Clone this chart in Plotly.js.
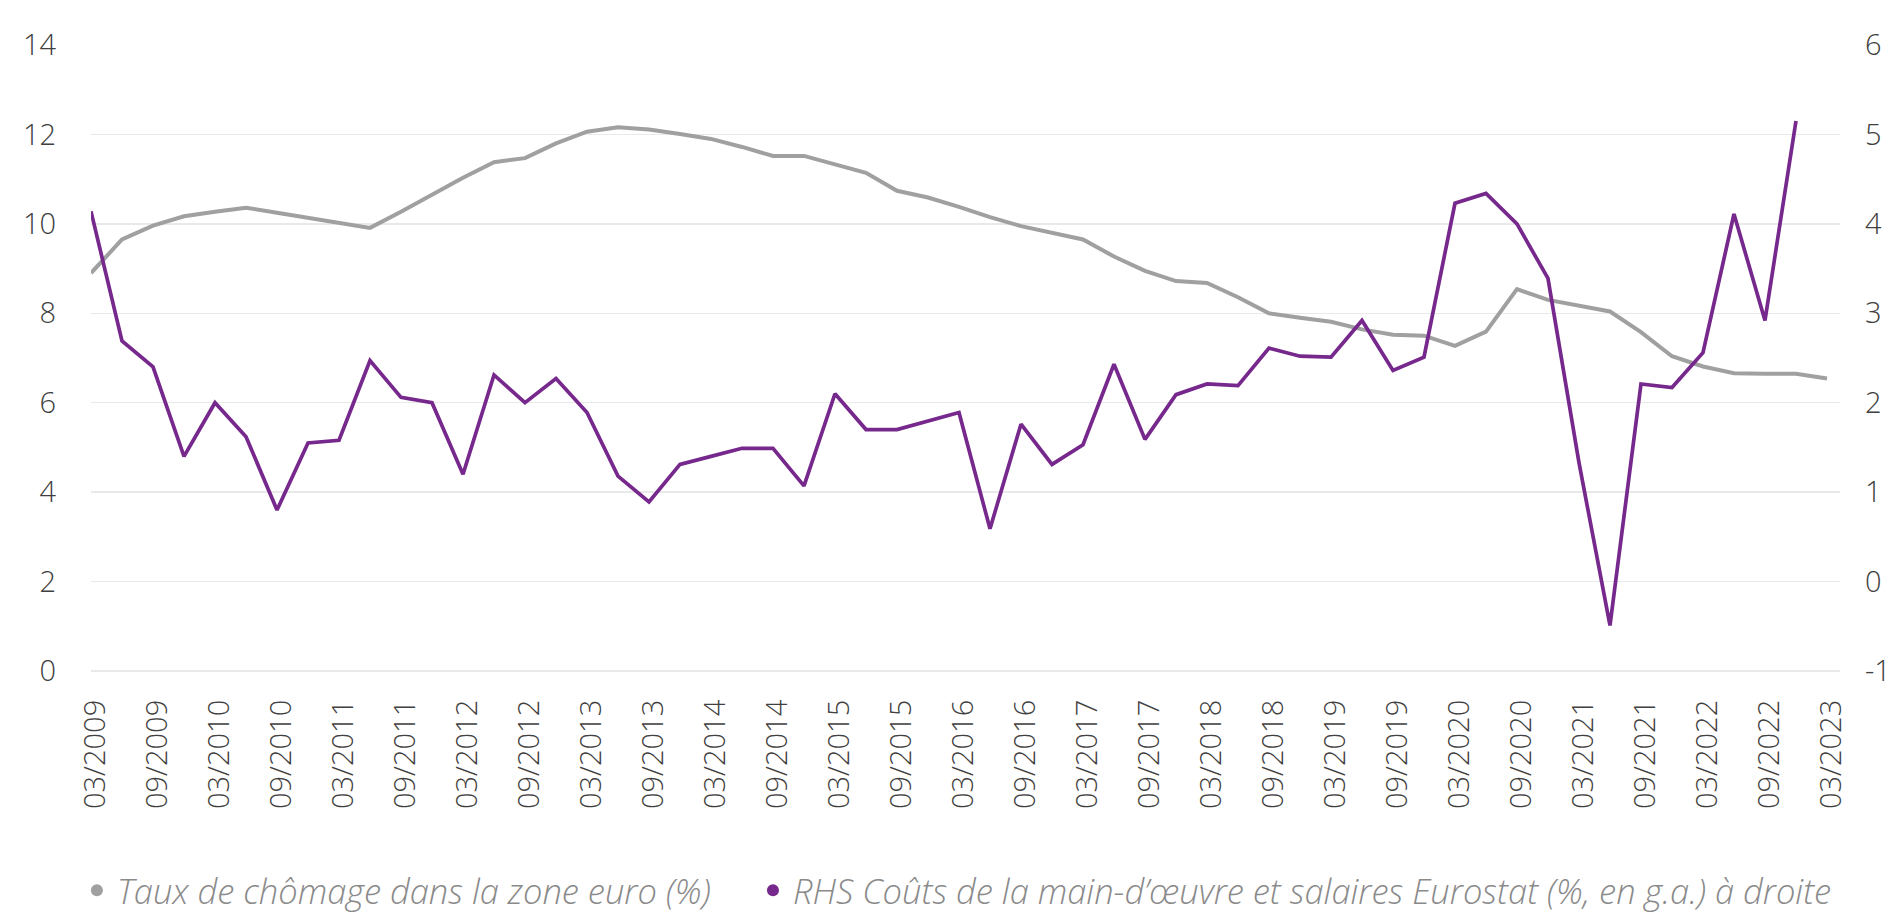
<!DOCTYPE html>
<html>
<head>
<meta charset="utf-8">
<script src="https://cdn.plot.ly/plotly-3.0.1.min.js"></script>
<style>
html,body{margin:0;padding:0;background:#fff;}
#chart{width:1899px;height:914px;}
</style>
</head>
<body>
<div id="chart"></div>
<script>
// Quarter labels 03/2009 .. 03/2023
var quarters = [
 "03/2009","06/2009","09/2009","12/2009",
 "03/2010","06/2010","09/2010","12/2010",
 "03/2011","06/2011","09/2011","12/2011",
 "03/2012","06/2012","09/2012","12/2012",
 "03/2013","06/2013","09/2013","12/2013",
 "03/2014","06/2014","09/2014","12/2014",
 "03/2015","06/2015","09/2015","12/2015",
 "03/2016","06/2016","09/2016","12/2016",
 "03/2017","06/2017","09/2017","12/2017",
 "03/2018","06/2018","09/2018","12/2018",
 "03/2019","06/2019","09/2019","12/2019",
 "03/2020","06/2020","09/2020","12/2020",
 "03/2021","06/2021","09/2021","12/2021",
 "03/2022","06/2022","09/2022","12/2022",
 "03/2023"
];

// Taux de chômage dans la zone euro (%) - left axis
var unemployment = [
 8.90, 9.65, 9.96, 10.17,
 10.27, 10.36, 10.25, 10.14,
 10.03, 9.91, 10.27, 10.65,
 11.03, 11.38, 11.47, 11.80,
 12.06, 12.16, 12.11, 12.01,
 11.90, 11.72, 11.52, 11.52,
 11.34, 11.14, 10.74, 10.59,
 10.38, 10.15, 9.95, 9.80,
 9.65, 9.27, 8.95, 8.72,
 8.68, 8.36, 8.00, 7.90,
 7.81, 7.64, 7.52, 7.50,
 7.27, 7.59, 8.54, 8.30,
 8.16, 8.04, 7.58, 7.04,
 6.81, 6.66, 6.65, 6.65,
 6.54
];

// Coûts de la main-d'œuvre et salaires Eurostat (%, g.a.) - right axis (ends 12/2022)
var labourCosts = [
 4.14, 2.69, 2.40, 1.40,
 2.00, 1.62, 0.80, 1.55,
 1.58, 2.47, 2.06, 2.00,
 1.20, 2.31, 2.00, 2.27,
 1.89, 1.18, 0.89, 1.31,
 1.40, 1.49, 1.49, 1.07,
 2.10, 1.70, 1.70, 1.79,
 1.89, 0.59, 1.76, 1.31,
 1.53, 2.43, 1.59, 2.09,
 2.21, 2.19, 2.61, 2.52,
 2.51, 2.92, 2.36, 2.51,
 4.23, 4.34, 4.00, 3.39,
 1.33, -0.49, 2.21, 2.17,
 2.56, 4.11, 2.92, 5.15
];

var tickLabels = quarters.filter(function(q, i){ return i % 2 === 0; });
var leftTicks = [0, 2, 4, 6, 8, 10, 12, 14];
var rightTicks = [-1, 0, 1, 2, 3, 4, 5, 6];
var rightTickText = ["-1", "0", "1", "2", "3", "4", "5", "6"];

var seriesNames = [
 "Taux de chômage dans la zone euro (%)",
 "RHS Coûts de la main-d’œuvre et salaires Eurostat (%, en g.a.) à droite"
];

var GREY = "#a0a0a0";
var PURPLE = "#76288c";
var FONT = "Open Sans, Noto Sans, sans-serif";

var traces = [
 {x: quarters, y: unemployment, type: "scatter", mode: "lines",
  line: {color: GREY, width: 4}, yaxis: "y", showlegend: false,
  name: seriesNames[0], hoverinfo: "x+y"},
 {x: quarters.slice(0, labourCosts.length), y: labourCosts, type: "scatter", mode: "lines",
  line: {color: PURPLE, width: 3.7}, yaxis: "y2", showlegend: false,
  name: seriesNames[1], hoverinfo: "x+y"},
 // legend-only entries (round dots as in the reference)
 {x: [null], y: [null], type: "scatter", mode: "markers", legend: "legend",
  marker: {color: GREY, size: 12, symbol: "circle"}, name: seriesNames[0], showlegend: true},
 {x: [null], y: [null], type: "scatter", mode: "markers", yaxis: "y2", legend: "legend2",
  marker: {color: PURPLE, size: 12, symbol: "circle"}, name: seriesNames[1], showlegend: true}
];

var legendFont = {family: FONT, size: 34.5, color: "#8a8a8a", style: "italic", weight: 300};

var layout = {
 width: 1899, height: 914,
 margin: {l: 91, r: 59, t: 45, b: 243, pad: 0},
 paper_bgcolor: "#ffffff", plot_bgcolor: "#ffffff",
 font: {family: FONT, size: 29, color: "#404040", weight: 300},
 showlegend: true,
 legend: {
  orientation: "h", xref: "container", yref: "container",
  x: 0.0405, xanchor: "left", y: 0.026, yanchor: "middle",
  font: legendFont,
  bgcolor: "rgba(0,0,0,0)", borderwidth: 0, traceorder: "normal"
 },
 legend2: {
  orientation: "h", xref: "container", yref: "container",
  x: 0.3965, xanchor: "left", y: 0.026, yanchor: "middle",
  font: legendFont,
  bgcolor: "rgba(0,0,0,0)", borderwidth: 0, traceorder: "normal"
 },
 xaxis: {
  type: "category", categoryorder: "array", categoryarray: quarters,
  range: [0, 56.42],
  tickmode: "array", tickvals: tickLabels, ticktext: tickLabels,
  tickangle: -90, ticks: "", showgrid: false, zeroline: false, showline: false,
  ticklabelstandoff: 22, ticklabelshift: 5,
  tickfont: {family: FONT, size: 29, color: "#404040", weight: 300}
 },
 yaxis: {
  range: [0, 14], tickmode: "array", tickvals: leftTicks,
  showgrid: true, gridcolor: "#e9e9e9", gridwidth: 1.5,
  zeroline: true, zerolinecolor: "#e9e9e9", zerolinewidth: 1.5,
  showline: false, ticks: "", ticklabelstandoff: 34,
  tickfont: {family: FONT, size: 29, color: "#404040", weight: 300}
 },
 yaxis2: {
  overlaying: "y", side: "right", range: [-1, 6],
  tickmode: "array", tickvals: rightTicks, ticktext: rightTickText,
  showgrid: false, zeroline: false, showline: false, ticks: "",
  ticklabelstandoff: 24,
  tickfont: {family: FONT, size: 29, color: "#404040", weight: 300}
 }
};

Plotly.newPlot("chart", traces, layout, {displayModeBar: false, staticPlot: true});
</script>
</body>
</html>
